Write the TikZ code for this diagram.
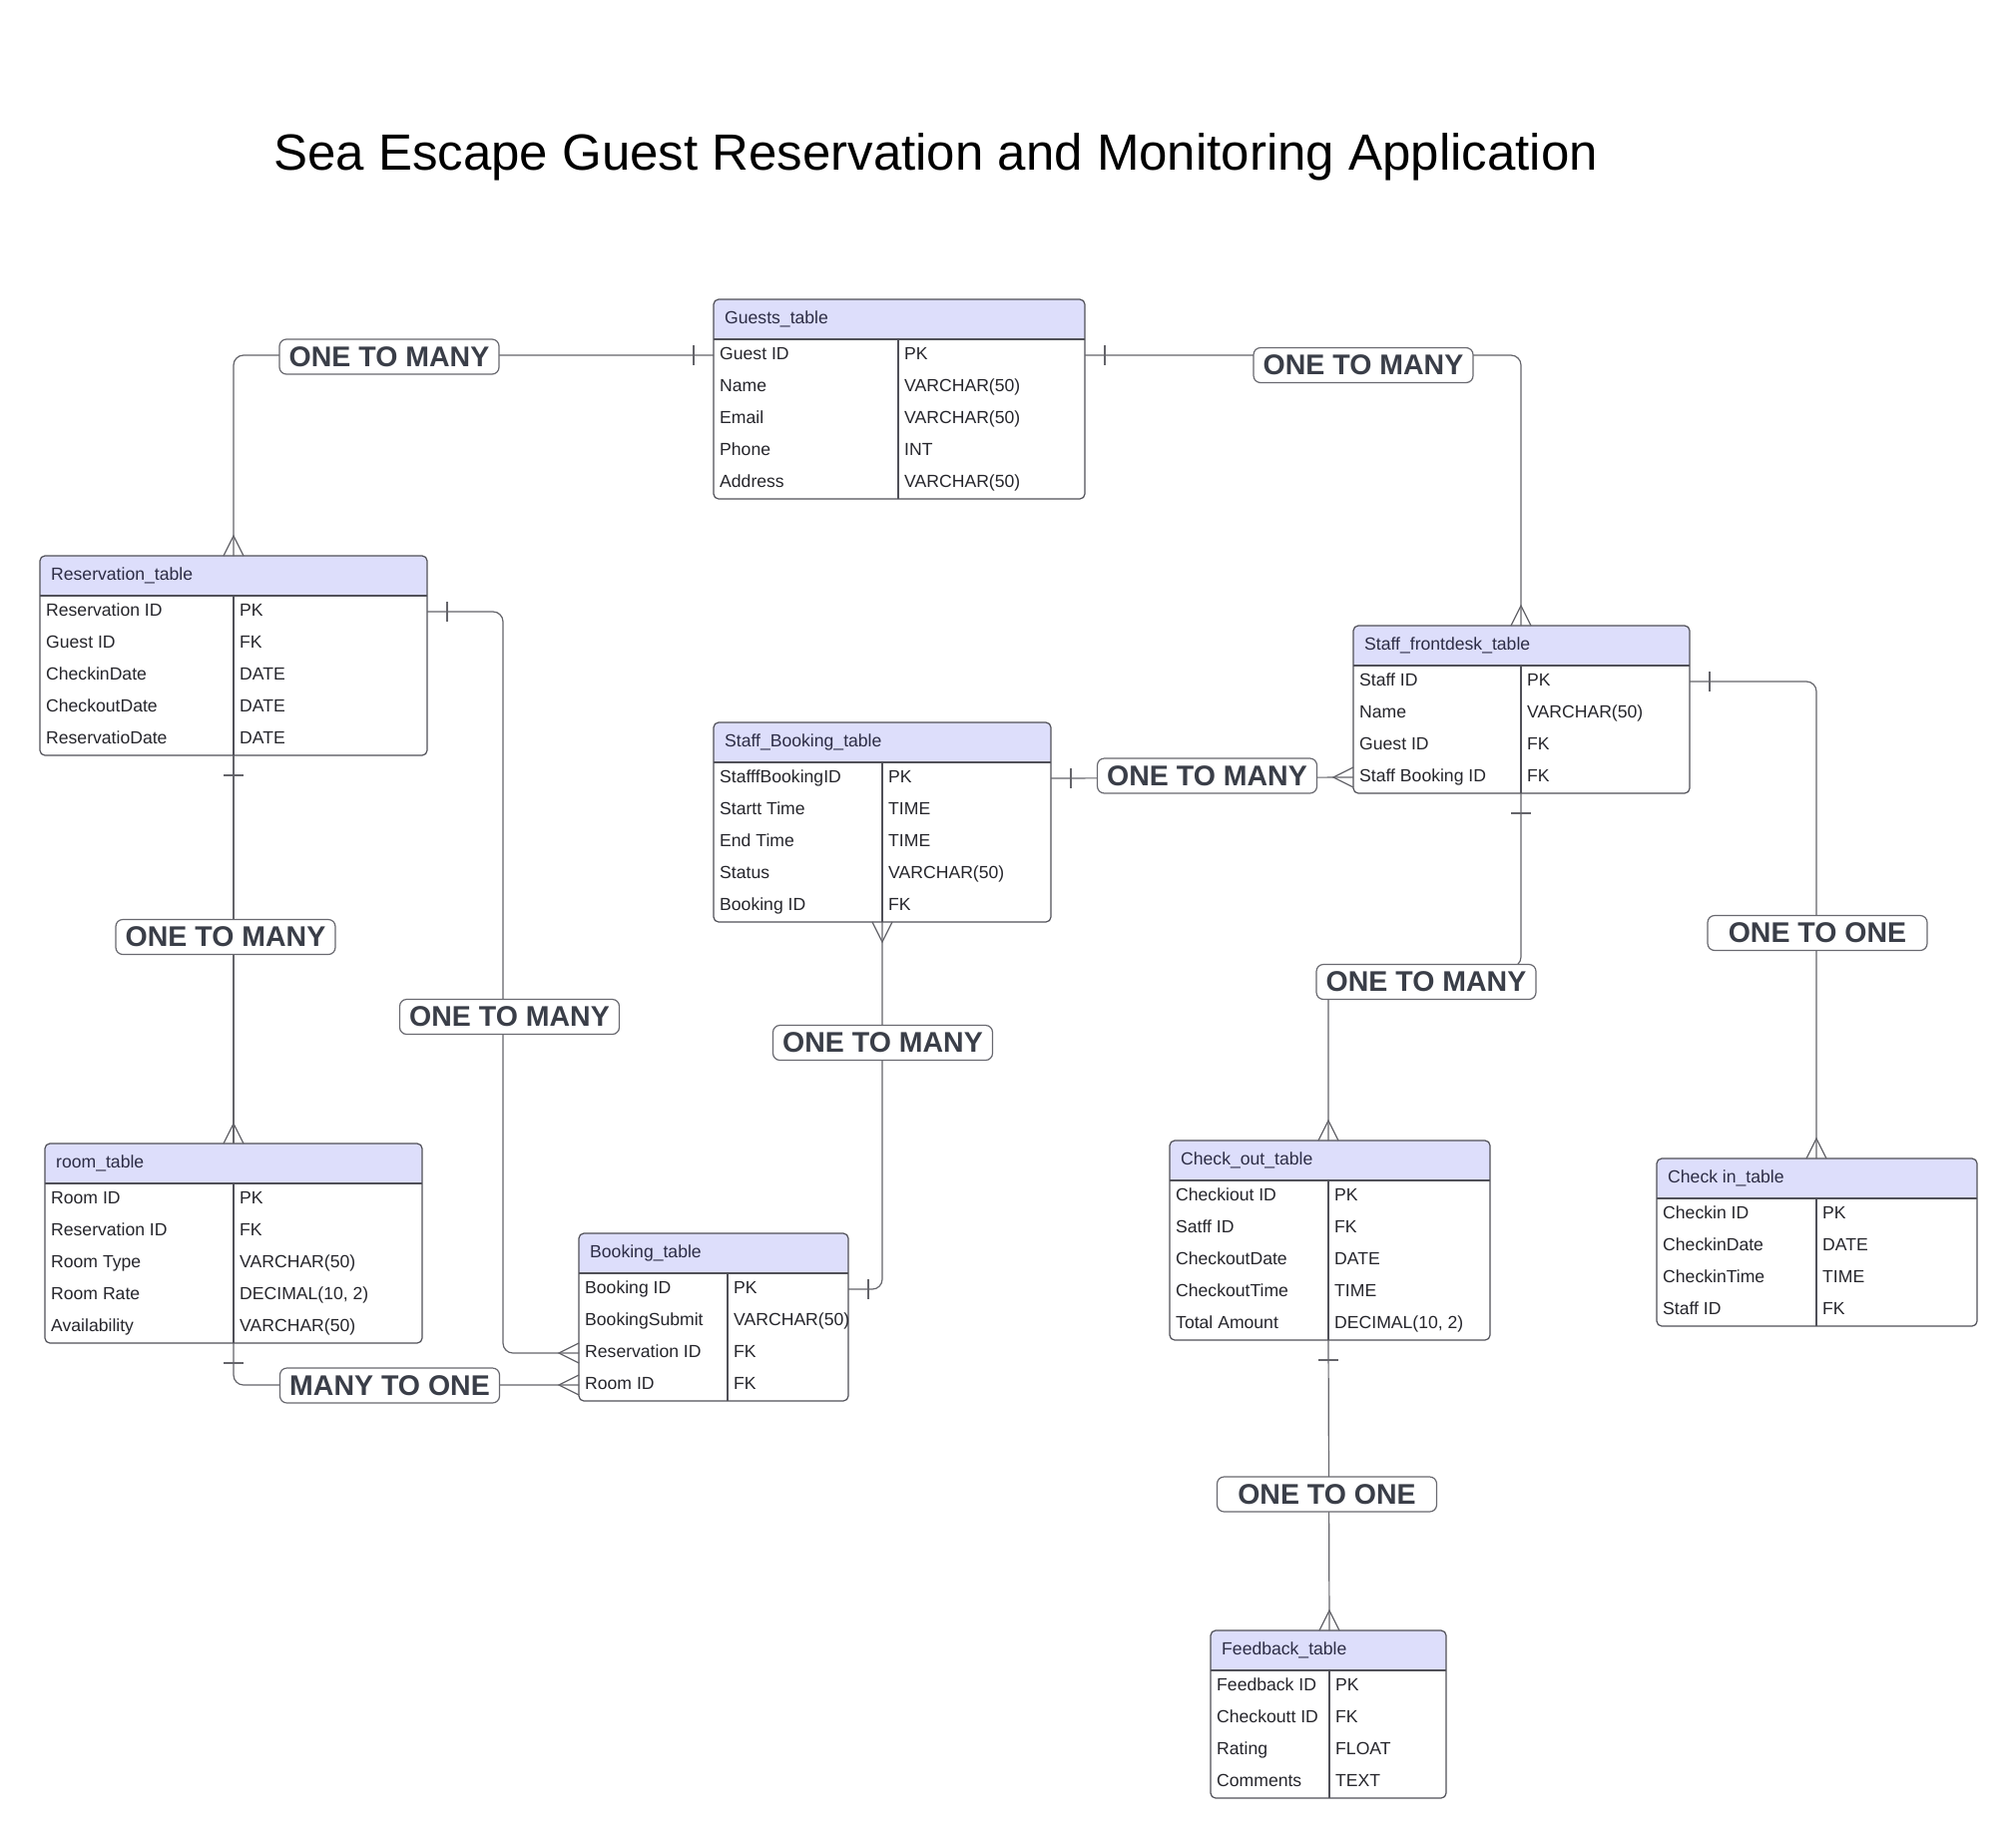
\documentclass[tikz,border=0pt]{standalone}
\usepackage{fontspec}
\setmainfont{Liberation Sans}
\usetikzlibrary{calc}
\definecolor{headfill}{RGB}{221,222,251}
\definecolor{tblborder}{RGB}{80,80,88}
\definecolor{connline}{RGB}{100,100,106}
\definecolor{lbltext}{RGB}{58,62,72}
\definecolor{lblborder}{RGB}{105,105,112}
\definecolor{headtxt}{RGB}{45,45,70}
\definecolor{rowtxt}{RGB}{38,38,44}

\tikzset{
 tblframe/.style={draw=tblborder, line width=1.2pt, rounded corners=5pt, inner sep=0pt, outer sep=0pt},
 tblline/.style={draw=tblborder, line width=1.2pt},
 headtext/.style={inner sep=0pt, text=headtxt, font=\fontsize{17.6}{20}\selectfont},
 rowtext/.style={inner sep=0pt, text=rowtxt, font=\fontsize{17.6}{20}\selectfont},
 conn/.style={draw=connline, line width=1.2pt, rounded corners=10pt},
 tick/.style={draw=connline, line width=1.2pt},
 lbl/.style={draw=lblborder, line width=1.2pt, fill=white, rounded corners=7pt, minimum width=220pt, minimum height=35pt, inner sep=0pt, text=lbltext, font=\fontsize{28.5}{30}\selectfont\bfseries},
}

\newcommand{\decten}{DECIMAL(10, 2)}

% name, left, top, right, divider, nrows, title, rows
\newcommand{\ertable}[8]{%
 \pgfmathsetmacro\tblH{40+32*#6}%
 \pgfmathsetmacro\tblW{#4-#2}%
 \begin{scope}
  \clip[rounded corners=5pt] (#2,#3) rectangle (#4,#3+\tblH);
  \fill[white] (#2,#3) rectangle (#4,#3+\tblH);
  \fill[headfill] (#2,#3) rectangle (#4,#3+40);
 \end{scope}
 \draw[tblline] (#2,#3+40) -- (#4,#3+40);
 \draw[tblline] (#5,#3+40) -- (#5,#3+\tblH);
 \node[tblframe, minimum width=\tblW pt, minimum height=\tblH pt, anchor=north west] (#1) at (#2,#3) {};
 \coordinate (#1-div) at (#5,#3);
 \coordinate (#1-divb) at (#5,#3+\tblH);
 \node[headtext, anchor=base west] (#1-title) at (#2+11,#3+24) {#7};
 \foreach [count=\ri] \rowa/\rowb in {#8} {
   \node[rowtext, anchor=base west] (#1-l\ri) at (#2+6, #3+60.5+32*\ri-32) {\rowa};
   \node[rowtext, anchor=base west] (#1-t\ri) at (#5+6, #3+60.5+32*\ri-32) {\rowb};
   \coordinate (#1-w\ri) at (#2, #3+56+32*\ri-32);
   \coordinate (#1-e\ri) at (#4, #3+56+32*\ri-32);
 }
}

\newcommand{\crowT}[1]{\draw[tick] ($(#1)+(-10,0)$) -- ($(#1)+(0,-20)$) -- ($(#1)+(10,0)$);}
\newcommand{\crowB}[1]{\draw[tick] ($(#1)+(-10,0)$) -- ($(#1)+(0,20)$) -- ($(#1)+(10,0)$);}
\newcommand{\crowL}[1]{\draw[tick] ($(#1)+(0,-10)$) -- ($(#1)+(-20,0)$) -- ($(#1)+(0,10)$);}
\newcommand{\tickH}[2]{\draw[tick] ($(#1)+(#2,-10)$) -- ($(#1)+(#2,10)$);}
\newcommand{\tickV}[2]{\draw[tick] ($(#1)+(-10,#2)$) -- ($(#1)+(10,#2)$);}

\begin{document}
\begin{tikzpicture}[x=1pt,y=-1pt]
\fill[white] (0,0) rectangle (2020,1842);
\useasboundingbox (0,0) rectangle (2020,1842);

\node[anchor=base west, inner sep=0pt, font=\fontsize{51}{56}\selectfont] (title) at (274,170) {Sea Escape Guest Reservation and Monitoring Application};

% tables
\ertable{guests}{715}{300}{1087}{900}{5}{Guests\_table}{Guest ID/PK, Name/VARCHAR(50), Email/VARCHAR(50), Phone/INT, Address/VARCHAR(50)}
\ertable{res}{40}{557}{428}{234}{5}{Reservation\_table}{Reservation ID/PK, Guest ID/FK, CheckinDate/DATE, CheckoutDate/DATE, ReservatioDate/DATE}
\ertable{front}{1356}{627}{1693}{1524}{4}{Staff\_frontdesk\_table}{Staff ID/PK, Name/VARCHAR(50), Guest ID/FK, Staff Booking ID/FK}
\ertable{sb}{715}{724}{1053}{884}{5}{Staff\_Booking\_table}{StafffBookingID/PK, Startt Time/TIME, End Time/TIME, Status/VARCHAR(50), Booking ID/FK}
\ertable{room}{45}{1146}{423}{234}{5}{room\_table}{Room ID/PK, Reservation ID/FK, Room Type/VARCHAR(50), Room Rate/\decten, Availability/VARCHAR(50)}
\ertable{book}{580}{1236}{850}{729}{4}{Booking\_table}{Booking ID/PK, BookingSubmit/VARCHAR(50), Reservation ID/FK, Room ID/FK}
\ertable{co}{1172}{1143}{1493}{1331}{5}{Check\_out\_table}{Checkiout ID/PK, Satff ID/FK, CheckoutDate/DATE, CheckoutTime/TIME, Total Amount/\decten}
\ertable{ci}{1660}{1161}{1981}{1820}{4}{Check in\_table}{Checkin ID/PK, CheckinDate/DATE, CheckinTime/TIME, Staff ID/FK}
\ertable{fb}{1213}{1634}{1449}{1332}{4}{Feedback\_table}{Feedback ID/PK, Checkoutt ID/FK, Rating/FLOAT, Comments/TEXT}

% connectors
\draw[conn] (guests-w1) -| (res-div);
\tickH{guests-w1}{-20}
\crowT{res-div}

\draw[conn] (guests-e1) -| (front-div);
\tickH{guests-e1}{20}
\crowT{front-div}

\draw[conn] (res-e1) -| ($(book-w3)+(-76,0)$) -- (book-w3);
\tickH{res-e1}{20}
\crowL{book-w3}

\draw[conn] (res-divb) -- (room-div);
\tickV{res-divb}{20}
\crowT{room-div}

\draw[conn] (sb-e1) -- (front-w4);
\tickH{sb-e1}{20}
\crowL{front-w4}

\draw[conn] (sb-divb) |- (book-e1);
\crowB{sb-divb}
\tickH{book-e1}{20}

\draw[conn] (front-divb) -- ++(0,174) -| (co-div);
\tickV{front-divb}{20}
\crowT{co-div}

\draw[conn] (front-e1) -| (ci-div);
\tickH{front-e1}{20}
\crowT{ci-div}

\draw[conn] (co-divb) -- (fb-div);
\tickV{co-divb}{20}
\crowT{fb-div}

\draw[conn] (room-divb) |- (book-w4);
\tickV{room-divb}{20}
\crowL{book-w4}

% labels
\node[lbl] (l1) at (390,357.5) {ONE TO MANY};
\node[lbl] (l2) at (1366,366) {ONE TO MANY};
\node[lbl] (l3) at (510.5,1019) {ONE TO MANY};
\node[lbl] (l4) at (226,939) {ONE TO MANY};
\node[lbl] (l5) at (1209.5,777.5) {ONE TO MANY};
\node[lbl] (l6) at (884.5,1045) {ONE TO MANY};
\node[lbl] (l7) at (1429,984) {ONE TO MANY};
\node[lbl] (l8) at (1821,935) {ONE TO ONE};
\node[lbl] (l9) at (1329.5,1497.5) {ONE TO ONE};
\node[lbl] (l10) at (390.5,1388.5) {MANY TO ONE};
\end{tikzpicture}
\end{document}
